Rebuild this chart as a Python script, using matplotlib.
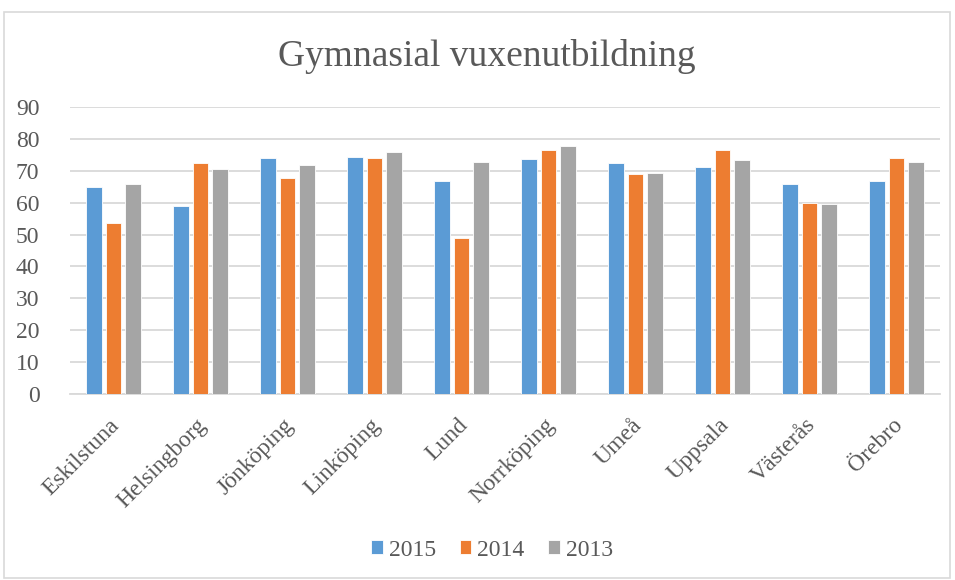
import numpy as np
import matplotlib
matplotlib.use("Agg")
import matplotlib.pyplot as plt
from matplotlib.patches import Rectangle
from matplotlib.transforms import ScaledTranslation

# --- Data ---
cities = ["Eskilstuna", "Helsingborg", "Jönköping", "Linköping", "Lund",
          "Norrköping", "Umeå", "Uppsala", "Västerås", "Örebro"]
years = ["2015", "2014", "2013"]
v2015 = [64.9, 58.8, 74.1, 74.2, 66.7, 73.5, 72.3, 71.1, 65.7, 66.6]
v2014 = [53.5, 72.5, 67.7, 74.0, 49.0, 76.6, 68.9, 76.5, 59.9, 74.0]
v2013 = [65.7, 70.4, 71.7, 75.8, 72.7, 77.6, 69.2, 73.4, 59.5, 72.6]
yticks = [0, 10, 20, 30, 40, 50, 60, 70, 80, 90]

colors = ["#5B9BD5", "#ED7D31", "#A5A5A5"]
text_color = "#595959"
grid_color = "#D9D9D9"

plt.rcParams["font.family"] = ["Liberation Serif", "DejaVu Serif"]

fig = plt.figure(figsize=(9.55, 5.8), dpi=100)
ax = fig.add_axes([0.0733, 0.3202, 0.911, 0.4958])

# --- Bars ---
x = np.arange(len(cities))
width = 0.182
step = 0.224
for i, (vals, lab) in enumerate(zip([v2015, v2014, v2013], years)):
    ax.bar(x + (i - 1) * step, vals, width, color=colors[i], label=lab,
           edgecolor="white", linewidth=0.6, zorder=3)

ax.set_xlim(-0.5, len(cities) - 0.5)
ax.set_ylim(0, 90)
ax.set_yticks(yticks)
ax.grid(axis="y", color=grid_color, linewidth=1.3, zorder=0)
for s in ["top", "right", "left"]:
    ax.spines[s].set_visible(False)
ax.spines["bottom"].set_color(grid_color)
ax.spines["bottom"].set_linewidth(1.3)
ax.tick_params(axis="both", length=0, labelsize=17, colors=text_color)
ax.tick_params(axis="y", pad=22)
ax.set_xticks(x)
ax.set_xticklabels(cities, rotation=45, ha="right", va="center",
                   rotation_mode="anchor")
ax.tick_params(axis="x", pad=20)
# nudge the rotated labels a little to the right, like the original
shift = ScaledTranslation(3 / 100, 0, fig.dpi_scale_trans)
for lbl in ax.get_xticklabels():
    lbl.set_transform(lbl.get_transform() + shift)

# --- Title ---
fig.text(0.51, 1 - 57 / 580, "Gymnasial vuxenutbildning", ha="center",
         va="center", fontsize=27, color=text_color)

# --- Legend ---
ax.legend(loc="center", bbox_to_anchor=(492 / 955, 30 / 580),
          bbox_transform=fig.transFigure, ncol=3, frameon=False,
          fontsize=17, labelcolor=text_color, handlelength=0.5,
          handleheight=0.5, handletextpad=0.25, columnspacing=1.0)

# --- Chart border ---
fig.patches.append(Rectangle((4 / 955, 2 / 580), 946 / 955, 566 / 580,
                             transform=fig.transFigure, fill=False,
                             edgecolor=grid_color, linewidth=1.2))

fig.savefig("out.png", dpi=100)
